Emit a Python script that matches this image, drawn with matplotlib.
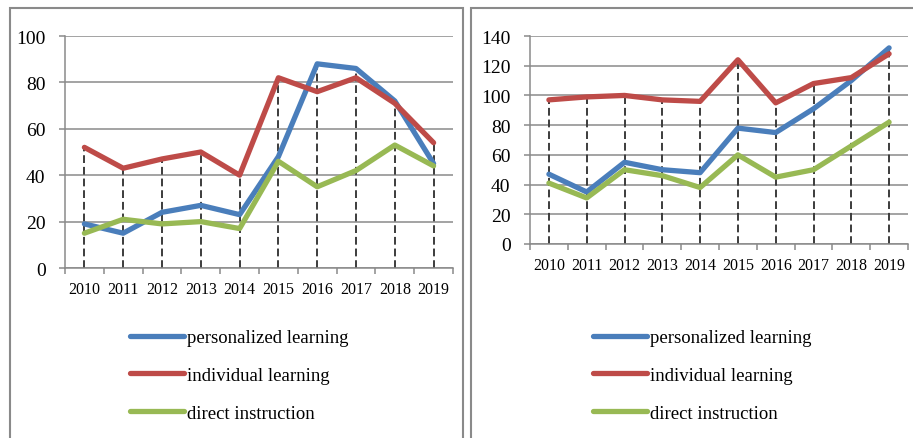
import matplotlib
matplotlib.use("Agg")
import matplotlib.pyplot as plt
import numpy as np
from matplotlib.patches import Rectangle

years = ["2010", "2011", "2012", "2013", "2014", "2015", "2016", "2017", "2018", "2019"]
series_names = ["personalized learning", "individual learning", "direct instruction"]

# left chart
left_personalized = [19, 15, 24, 27, 23, 48, 88, 86, 72, 45]
left_individual = [52, 43, 47, 50, 40, 82, 76, 82, 71, 54]
left_direct = [15, 21, 19, 20, 17, 46, 35, 42, 53, 44]

# right chart
right_personalized = [47, 35, 55, 50, 48, 78, 75, 91, 110, 132]
right_individual = [97, 99, 100, 97, 96, 124, 95, 108, 112, 128]
right_direct = [41, 31, 50, 46, 38, 60, 45, 50, 66, 82]

colors = ["#4a7ebb", "#be4b48", "#98b954"]
axis_grey = "#8a8a8a"

plt.rcParams["font.family"] = ["Liberation Serif", "DejaVu Serif"]

fig = plt.figure(figsize=(9.13, 4.39), dpi=100)


def draw_panel(rect, data, ymax, legend_xy):
    ax = fig.add_axes(rect)
    x = np.arange(len(years))
    # drop lines from the highest series down to zero
    tops = np.max(np.array(data), axis=0)
    ax.vlines(x, 0, tops, colors="#3c3c3c", linestyles=(0, (4, 2)), lw=1.4, zorder=2)
    for vals, c, name in zip(data, colors, series_names):
        ax.plot(x, vals, color=c, lw=3.8, label=name, zorder=3,
                solid_capstyle="round", solid_joinstyle="round")
    ax.set_xlim(-0.5, len(years) - 0.5)
    ax.set_ylim(0, ymax)
    ax.set_yticks(np.arange(0, ymax + 1, 20))
    ax.set_xticks(x)
    ax.set_xticklabels(years, fontsize=11.5)
    ax.set_xticks(np.arange(-0.5, len(years)), minor=True)
    ax.tick_params(axis="x", which="major", length=0, pad=9)
    ax.tick_params(axis="x", which="minor", length=4, color=axis_grey, width=1.1)
    ax.tick_params(axis="y", length=4, color=axis_grey, width=1.1, pad=10, labelsize=14)
    ax.yaxis.grid(True, color=axis_grey, lw=1.1, zorder=1)
    ax.set_axisbelow(True)
    for s in ["top", "right"]:
        ax.spines[s].set_visible(False)
    for s in ["left", "bottom"]:
        ax.spines[s].set_color(axis_grey)
        ax.spines[s].set_linewidth(1.1)
    ax.legend(loc="upper left", bbox_to_anchor=legend_xy, bbox_transform=fig.transFigure,
              frameon=False, fontsize=13.5, handlelength=2.9, handletextpad=0.15,
              labelspacing=1.1, borderpad=0, borderaxespad=0)
    return ax


draw_panel([65 / 913, 1 - 269 / 439, 388 / 913, 232 / 439],
           [left_personalized, left_individual, left_direct], 100,
           (130 / 913, 1 - 330 / 439))
draw_panel([530 / 913, 1 - 245 / 439, 378 / 913, 208 / 439],
           [right_personalized, right_individual, right_direct], 140,
           (593 / 913, 1 - 330 / 439))

# panel frames
for x0, x1 in [(10, 463), (471, 960)]:
    fig.add_artist(Rectangle((x0 / 913, -0.2), (x1 - x0) / 913, 1.2 - 9 / 439,
                             transform=fig.transFigure, fill=False,
                             edgecolor=axis_grey, lw=1.5))

fig.savefig("out.png", dpi=100)
